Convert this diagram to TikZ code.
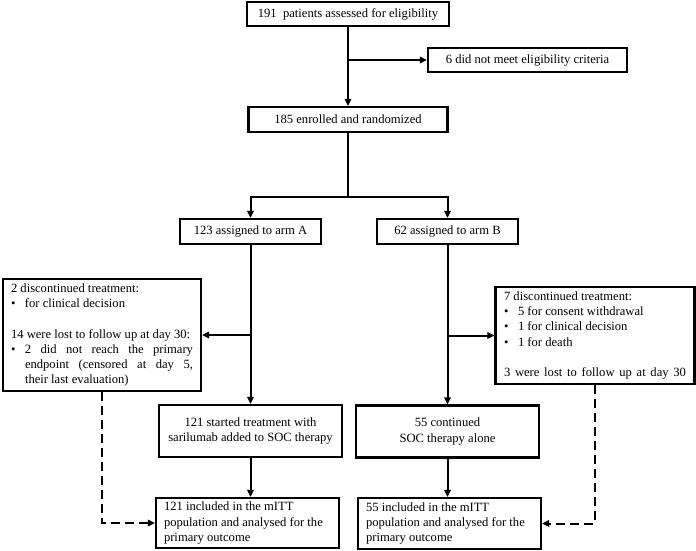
\documentclass[tikz,border=0pt]{standalone}
\usepackage{fontspec}
\setmainfont{Liberation Serif}
\usetikzlibrary{arrows.meta}
\begin{document}
\begin{tikzpicture}[x=1pt,y=-1pt,
  box/.style={draw, line width=2.2pt, inner sep=0pt, align=center, font=\fontsize{12.6}{15.3}\selectfont},
  arr/.style={line width=2pt, -{Triangle[length=7pt,width=6.5pt]}},
  ln/.style={line width=2pt},
  dsh/.style={line width=2pt, dash pattern=on 9pt off 5pt, -{Triangle[length=7pt,width=6.5pt]}}]
\useasboundingbox (0,0) rectangle (696,551);
\node[box, minimum width=202pt, minimum height=24pt] (n1) at (348,14) {191\ \ patients assessed for eligibility};
\node[box, minimum width=199pt, minimum height=24pt] (n2) at (527.5,60) {6 did not meet eligibility criteria};
\node[box, minimum width=199pt, minimum height=25pt] (n3) at (348,119.5) {185 enrolled and randomized};
\node[box, minimum width=141pt, minimum height=25pt] (A) at (250.5,231.5) {123 assigned to arm A};
\node[box, minimum width=141pt, minimum height=25pt] (B) at (447.5,231.5) {62 assigned to arm B};
\node[box, minimum width=198pt, minimum height=112pt] (L) at (102,335) {\begin{minipage}{182pt}\parindent=0pt
2 discontinued treatment:\par
\makebox[14pt][l]{\textbullet}for clinical decision\par
\mbox{}\par
14 were lost to follow up at day 30:\par
{\hangindent=14pt\hangafter=1 \makebox[14pt][l]{\textbullet}2 did not reach the primary\linebreak endpoint (censored at day 5,\linebreak their last evaluation)\par}
\end{minipage}};
\node[box, minimum width=199pt, minimum height=97pt] (R) at (595,335.5) {\begin{minipage}{182pt}\parindent=0pt
7 discontinued treatment:\par
\makebox[14pt][l]{\textbullet}5 for consent withdrawal\par
\makebox[14pt][l]{\textbullet}1 for clinical decision\par
\makebox[14pt][l]{\textbullet}1 for death\par
\mbox{}\par
\makebox[\linewidth][s]{3 were lost to follow up at day 30}
\end{minipage}};
\node[box, minimum width=183pt, minimum height=52pt] (SA) at (250.5,431) {121 started treatment with\\sarilumab added to SOC therapy};
\node[box, minimum width=183pt, minimum height=52pt] (SB) at (447.5,431.5) {55 continued\\SOC therapy alone};
\node[box, minimum width=183pt, minimum height=50pt] (IA) at (247.5,523) {\begin{minipage}{167pt}\raggedright 121 included in the mITT\\population and analysed for the\\primary outcome\end{minipage}};
\node[box, minimum width=183pt, minimum height=51pt] (IB) at (449.5,523.5) {\begin{minipage}{167pt}\raggedright 55 included in the mITT\\population and analysed for the\\primary outcome\end{minipage}};
\coordinate (split) at (348,197);
\draw[arr] (n1.south) -- (n3.north);
\draw[arr] (n1.south |- n2.west) -- (n2.west);
\draw[ln] (n3.south) -- (split);
\draw[arr] (split) -| (A.north);
\draw[arr] (split) -| (B.north);
\draw[arr] (A.south) -- (SA.north);
\draw[arr] (A.south |- L.east) -- (L.east);
\draw[arr] (SA.south) -- (SA.south |- IA.north);
\draw[arr] (B.south) -- (SB.north);
\draw[arr] (B.south |- R.west) -- (R.west);
\draw[arr] (SB.south) -- (SB.south |- IB.north);
\draw[dsh] (L.south) |- (IA.west);
\draw[dsh] (R.south) |- (IB.east);
\end{tikzpicture}
\end{document}
